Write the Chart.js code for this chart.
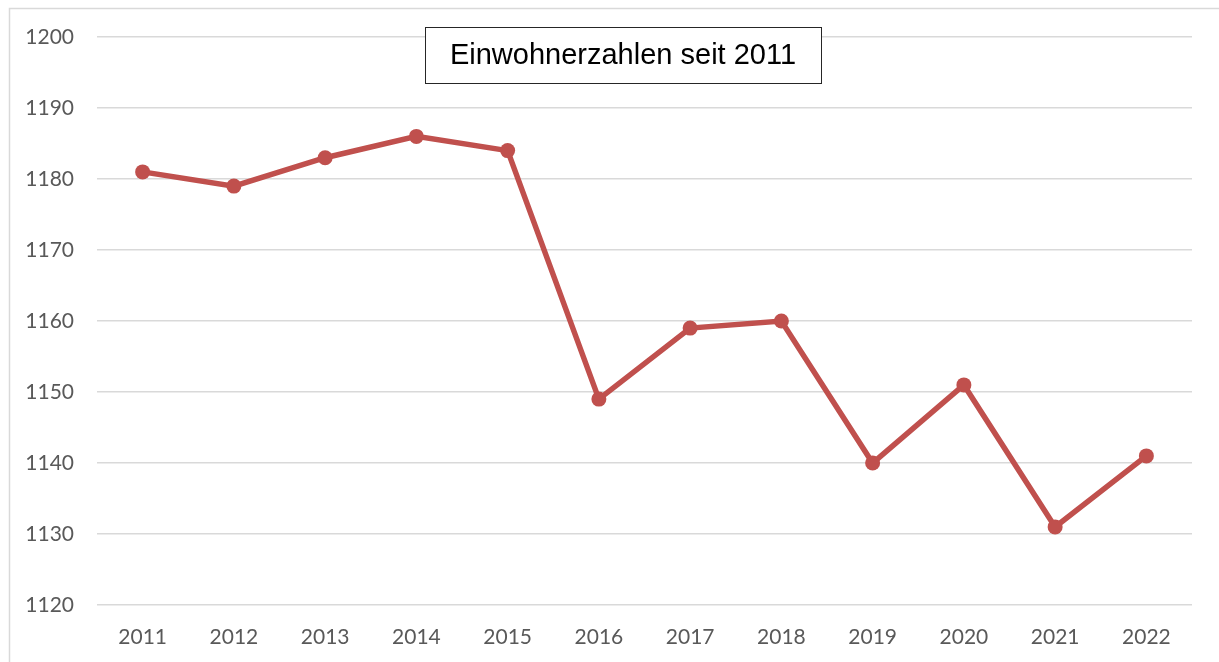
<!DOCTYPE html>
<html>
<head>
<meta charset="utf-8">
<script src="https://cdn.jsdelivr.net/npm/chart.js@4"></script>
<style>
  html, body { margin: 0; padding: 0; background: #fff; }
  #wrap { position: relative; width: 1219px; height: 662px; }
</style>
</head>
<body>
<div id="wrap"><canvas id="chart" width="1219" height="662"></canvas></div>
<script>
'use strict';

const years = ['2011', '2012', '2013', '2014', '2015', '2016',
  '2017', '2018', '2019', '2020', '2021', '2022'];
const residents = [1181, 1179, 1183, 1186, 1184, 1149,
  1159, 1160, 1140, 1151, 1131, 1141];
const chartTitle = 'Einwohnerzahlen seit 2011';

// Outer frame and the boxed title drawn on top of the grid.
const framePlugin = {
  id: 'frame',
  beforeDraw(chart) {
    const ctx = chart.ctx;
    ctx.save();
    ctx.strokeStyle = '#d9d9d9';
    ctx.lineWidth = 1.5;
    ctx.strokeRect(9.5, 8.5, 1300, 800);
    ctx.restore();
  },
  afterDraw(chart) {
    const ctx = chart.ctx;
    ctx.save();
    ctx.fillStyle = '#ffffff';
    ctx.fillRect(425, 27, 396, 56);
    ctx.strokeStyle = '#262626';
    ctx.lineWidth = 1;
    ctx.strokeRect(425.5, 27.5, 396, 56);
    ctx.fillStyle = '#000000';
    ctx.font = '29px "Liberation Sans", Arial, sans-serif';
    ctx.textAlign = 'center';
    ctx.textBaseline = 'middle';
    ctx.fillText(chartTitle, 623, 56);
    ctx.restore();
  }
};

const tickFont = { family: 'Lato, "Open Sans", sans-serif', size: 21 };

new Chart(document.getElementById('chart'), {
  type: 'line',
  data: {
    labels: years,
    datasets: [{
      data: residents,
      borderColor: '#c0504d',
      backgroundColor: '#c0504d',
      borderWidth: 5.5,
      pointRadius: 7.5,
      pointHoverRadius: 7.5,
      pointBorderWidth: 0,
      tension: 0
    }]
  },
  options: {
    responsive: false,
    animation: false,
    layout: { padding: { top: 37, right: 27, left: 0, bottom: 0 } },
    plugins: {
      legend: { display: false },
      tooltip: { enabled: false }
    },
    scales: {
      x: {
        offset: true,
        grid: { display: false, drawTicks: false },
        border: { display: false },
        ticks: { color: '#595959', font: tickFont, padding: 20, maxRotation: 0 },
        afterFit(scale) { scale.height = 57; }
      },
      y: {
        min: 1120,
        max: 1200,
        grid: { color: '#d9d9d9', lineWidth: 1.5, drawTicks: false },
        border: { display: false },
        ticks: {
          stepSize: 10,
          color: '#595959',
          font: tickFont,
          padding: 23,
          callback: (value) => String(value)
        },
        afterFit(scale) { scale.width = 97; }
      }
    }
  },
  plugins: [framePlugin]
});
</script>
</body>
</html>
